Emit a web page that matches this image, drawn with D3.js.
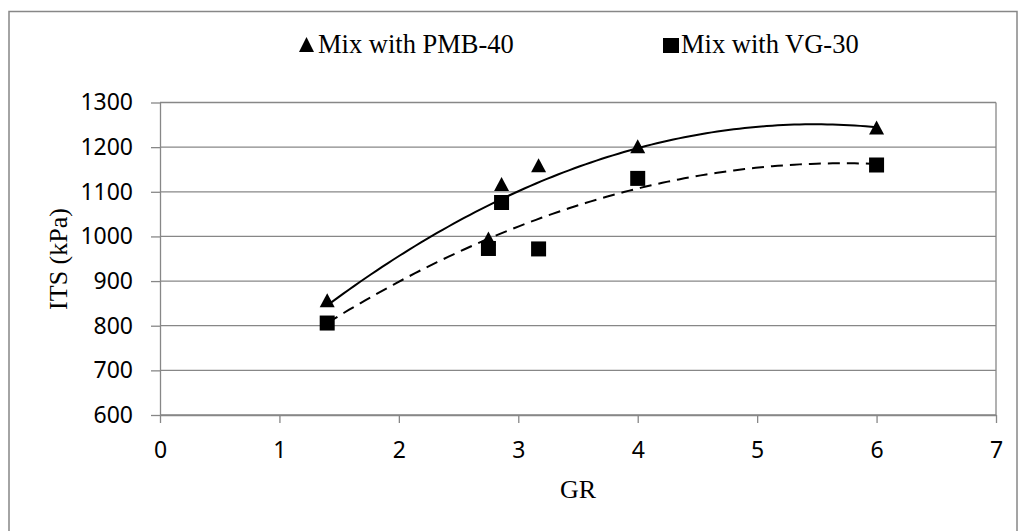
<!DOCTYPE html>
<html>
<head>
<meta charset="utf-8">
<script src="https://cdnjs.cloudflare.com/ajax/libs/d3/7.8.5/d3.min.js"></script>
<style>
  body { margin: 0; background: #fff; }
</style>
</head>
<body>
<div id="chart"></div>
<script>
// data
var grPMB = [1.4, 2.75, 2.86, 3.17, 4.0, 6.0];
var itsPMB = [855, 993, 1115, 1157, 1200, 1242];
var grVG = [1.4, 2.75, 2.86, 3.17, 4.0, 6.0];
var itsVG = [806, 973, 1076, 972, 1130, 1160];
var xTicks = [0, 1, 2, 3, 4, 5, 6, 7];
var yTicks = [600, 700, 800, 900, 1000, 1100, 1200, 1300];

var W = 1024, H = 531;
var svg = d3.select("#chart").append("svg").attr("width", W).attr("height", H);

// outer chart border (bottom edge runs off the picture)
svg.append("rect").attr("x", 9).attr("y", 11.5).attr("width", 1008).attr("height", 530)
  .attr("fill", "none").attr("stroke", "#878787").attr("stroke-width", 1.5);

var x = d3.scaleLinear().domain([0, 7]).range([160, 996]);
var y = d3.scaleLinear().domain([600, 1300]).range([415, 102.5]);

// gridlines
svg.append("g").selectAll("line").data(yTicks).enter().append("line")
  .attr("x1", x(0)).attr("x2", x(7))
  .attr("y1", function(d) { return y(d); }).attr("y2", function(d) { return y(d); })
  .attr("stroke", "#878787").attr("stroke-width", 1.3);
// right border of plot
svg.append("line").attr("x1", x(7)).attr("x2", x(7)).attr("y1", y(1300)).attr("y2", y(600))
  .attr("stroke", "#878787").attr("stroke-width", 1.3);

var yAxis = d3.axisLeft(y).tickValues(yTicks).tickFormat(d3.format("d"))
  .tickSize(9).tickPadding(18).tickSizeOuter(0);
var gy = svg.append("g").attr("transform", "translate(" + x(0) + ",0)").call(yAxis);
var xAxis = d3.axisBottom(x).tickValues(xTicks).tickFormat(d3.format("d"))
  .tickSize(8).tickPadding(19).tickSizeOuter(0);
var gx = svg.append("g").attr("transform", "translate(0," + y(600) + ")").call(xAxis);
[gx, gy].forEach(function(g) {
  g.selectAll("path, line").attr("stroke", "#878787").attr("stroke-width", 1.3);
  g.selectAll("text").attr("font-family", "Noto Sans").attr("font-size", 23).attr("fill", "#000");
});

// axis titles
svg.append("text").attr("x", 578).attr("y", 498).attr("text-anchor", "middle")
  .attr("font-family", "Liberation Serif").attr("font-size", 26).text("GR");
svg.append("text").attr("transform", "translate(67,259) rotate(-90)").attr("text-anchor", "middle")
  .attr("font-family", "Liberation Serif").attr("font-size", 26).text("ITS (kPa)");

// 2nd order polynomial trendline (least squares)
function polyFit(xs, ys) {
  var n = xs.length, s = [0,0,0,0,0], t = [0,0,0];
  for (var i = 0; i < n; i++) {
    var p = 1;
    for (var k = 0; k < 5; k++) { s[k] += p; if (k < 3) t[k] += p * ys[i]; p *= xs[i]; }
  }
  var A = [[s[0], s[1], s[2], t[0]], [s[1], s[2], s[3], t[1]], [s[2], s[3], s[4], t[2]]];
  for (var c = 0; c < 3; c++) {
    for (var r = c + 1; r < 3; r++) {
      var f = A[r][c] / A[c][c];
      for (var j = c; j < 4; j++) A[r][j] -= f * A[c][j];
    }
  }
  var b = [0,0,0];
  for (var r2 = 2; r2 >= 0; r2--) {
    var v = A[r2][3];
    for (var j2 = r2 + 1; j2 < 3; j2++) v -= A[r2][j2] * b[j2];
    b[r2] = v / A[r2][r2];
  }
  return function(xv) { return b[0] + b[1] * xv + b[2] * xv * xv; };
}
function trend(xs, ys, dash) {
  var f = polyFit(xs, ys);
  var lo = d3.min(xs), hi = d3.max(xs);
  var pts = d3.range(0, 101).map(function(i) { var xv = lo + (hi - lo) * i / 100; return [xv, f(xv)]; });
  svg.append("path").datum(pts)
    .attr("d", d3.line().x(function(d) { return x(d[0]); }).y(function(d) { return y(d[1]); }))
    .attr("fill", "none").attr("stroke", "#000").attr("stroke-width", 2)
    .attr("stroke-dasharray", dash);
}
trend(grPMB, itsPMB, null);
trend(grVG, itsVG, "12,7");

var tri = "M0,-8L7.5,6L-7.5,6Z";
svg.append("g").selectAll("rect").data(grVG).enter().append("rect")
  .attr("x", function(d) { return x(d) - 7.5; })
  .attr("y", function(d, i) { return y(itsVG[i]) - 7.5; })
  .attr("width", 15).attr("height", 15).attr("fill", "#000");
svg.append("g").selectAll("path").data(grPMB).enter().append("path")
  .attr("d", tri)
  .attr("transform", function(d, i) { return "translate(" + x(d) + "," + y(itsPMB[i]) + ")"; })
  .attr("fill", "#000");

// legend
svg.append("path").attr("d", "M0,-7.5L7.5,7.5L-7.5,7.5Z").attr("transform", "translate(306.5,44.5)").attr("fill", "#000");
svg.append("text").attr("x", 318).attr("y", 53).attr("font-family", "Liberation Serif")
  .attr("font-size", 26.5).text("Mix with PMB-40");
svg.append("rect").attr("x", 663).attr("y", 38).attr("width", 16).attr("height", 15).attr("fill", "#000");
svg.append("text").attr("x", 681).attr("y", 53).attr("font-family", "Liberation Serif")
  .attr("font-size", 26.5).text("Mix with VG-30");
</script>
</body>
</html>
